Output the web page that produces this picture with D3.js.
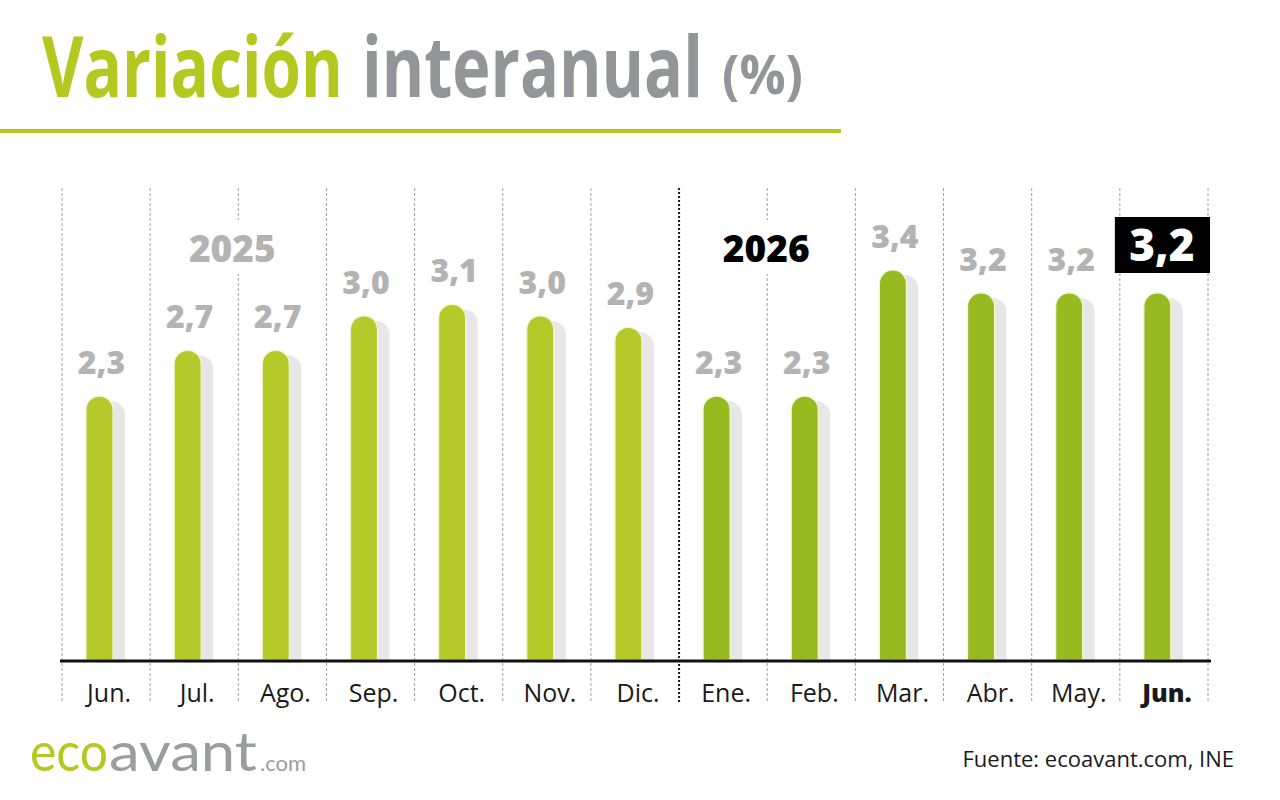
<!DOCTYPE html>
<html>
<head>
<meta charset="utf-8">
<script src="https://cdn.jsdelivr.net/npm/d3@7"></script>
<style>
  body { margin: 0; background: #fff; }
  svg { display: block; }
</style>
</head>
<body>
<script>
// chart data
var months = ["Jun.", "Jul.", "Ago.", "Sep.", "Oct.", "Nov.", "Dic.", "Ene.", "Feb.", "Mar.", "Abr.", "May.", "Jun."]
var values = [2.3, 2.7, 2.7, 3.0, 3.1, 3.0, 2.9, 2.3, 2.3, 3.4, 3.2, 3.2, 3.2]
var yearLabels = ["2025", "2026"]
var yearStart = [0, 7]   // index of first month of each year
var yearEdge = [2, 8]    // separator the year label sits on

var width = 1280, height = 800
var plot = { left: 62, right: 1208, top: 188, base: 660 }

var svg = d3.select("body").append("svg")
  .attr("width", width)
  .attr("height", height)

// scales: band per month, linear for values
var idx = months.map(function(d, i) { return i })

var x = d3.scaleBand()
  .domain(idx)
  .range([plot.left, plot.right])
  .paddingInner(0)

var y = d3.scaleLinear()
  .domain([0, 3.4])
  .range([plot.base, 270])

var barW = 27, barOff = 24

function edge(i) { return i < months.length ? x(i) : plot.right }

function barPath(x0, y0, w, h) {
  var rr = Math.min(w / 2, h)
  return "M" + x0 + "," + (y0 + h) +
    "V" + (y0 + rr) +
    "A" + rr + "," + rr + " 0 0 1 " + (x0 + w) + "," + (y0 + rr) +
    "V" + (y0 + h) + "Z"
}

// squeeze a text horizontally to a given width (condensed look)
function fitText(x0, y0, w, size, weight, fill, family, str) {
  var t = svg.append("text")
    .style("font-family", family).style("font-weight", weight)
    .style("font-size", size + "px").style("fill", fill)
    .text(str)
  var sx = w / t.node().getComputedTextLength()
  t.attr("transform", "translate(" + x0 + "," + y0 + ") scale(" + sx + ",1)")
  return t
}

// title
fitText(42, 97, 301, 84, 700, "#b5c820", "Open Sans", "Variación")
fitText(362, 97, 341, 84, 700, "#939598", "Open Sans", "interanual")
fitText(722, 94, 81, 53, 700, "#939598", "Open Sans", "(%)")

svg.append("line")
  .attr("x1", 0).attr("x2", 841)
  .attr("y1", 131).attr("y2", 131)
  .style("stroke", "#b5c820").style("stroke-width", 4)

// vertical separators
var edges = idx.map(function(i) { return x(i) }).concat([plot.right])

svg.append("g").selectAll("line")
  .data(edges)
  .enter().append("line")
  .attr("x1", function(d) { return d }).attr("x2", function(d) { return d })
  .attr("y1", plot.top).attr("y2", 702)
  .style("stroke", function(d, i) { return i === yearStart[1] ? "#1a1a1a" : "#a0a0a0" })
  .style("stroke-width", function(d, i) { return i === yearStart[1] ? 2 : 1 })
  .style("stroke-dasharray", function(d, i) { return i === yearStart[1] ? "2,2" : "3,2" })

// year labels with white backing to break the separators
var years = svg.append("g").selectAll("g")
  .data(yearLabels)
  .enter().append("g")

years.append("rect")
  .attr("x", function(d, i) { return edge(yearEdge[i]) - 50 })
  .attr("y", 220).attr("width", 100).attr("height", 54)
  .style("fill", "#fff")

years.append("text")
  .attr("x", function(d, i) { return edge(yearEdge[i]) - (i === 0 ? 6 : 1) })
  .attr("y", 262)
  .attr("text-anchor", "middle")
  .style("font-family", "Open Sans").style("font-weight", 800)
  .style("font-size", "37px")
  .style("fill", function(d, i) { return i === 0 ? "#b3b3b3" : "#000" })
  .text(function(d) { return d })

// bars: shadow then bar
var bars = svg.append("g").selectAll("g")
  .data(values)
  .enter().append("g")

bars.append("path")
  .attr("d", function(d, i) {
    return barPath(x(i) + barOff + 12, y(d) + 5, barW, plot.base + 3 - y(d) - 5)
  })
  .style("fill", "#e7e7e7")

bars.append("path")
  .attr("d", function(d, i) {
    return barPath(x(i) + barOff, y(d), barW, plot.base - y(d))
  })
  .style("fill", function(d, i) { return i >= yearStart[1] ? "#95bb20" : "#b5c92a" })
  .style("stroke", "#f3f6cf").style("stroke-width", 1.2)

// value labels
bars.filter(function(d, i) { return i < values.length - 1 })
  .append("text")
  .attr("x", function(d, i) { return x(i) + barOff + barW / 2 + 2 })
  .attr("y", function(d) { return y(d) - 22 })
  .attr("text-anchor", "middle")
  .style("font-family", "Open Sans").style("font-weight", 800)
  .style("font-size", "32px").style("fill", "#b3b3b3")
  .text(function(d) { return d3.format(".1f")(d).replace(".", ",") })

// highlighted last value
var last = values.length - 1
svg.append("rect")
  .attr("x", x(last) - 5).attr("y", 217)
  .attr("width", plot.right + 2 - x(last) + 5).attr("height", 56)
  .style("fill", "#000")

svg.append("text")
  .attr("x", x(last) + 42).attr("y", 261)
  .attr("text-anchor", "middle")
  .style("font-family", "Open Sans").style("font-weight", 800)
  .style("font-size", "44px").style("fill", "#fff")
  .text(d3.format(".1f")(values[last]).replace(".", ","))

// baseline
svg.append("line")
  .attr("x1", plot.left - 2).attr("x2", plot.right + 3)
  .attr("y1", plot.base + 1).attr("y2", plot.base + 1)
  .style("stroke", "#111").style("stroke-width", 3)

// month axis labels
svg.append("g").selectAll("text")
  .data(months)
  .enter().append("text")
  .attr("x", function(d, i) { return x(i) + x.bandwidth() / 2 + 3 })
  .attr("y", 702)
  .attr("text-anchor", "middle")
  .style("font-family", "Open Sans")
  .style("font-weight", function(d, i) { return i === last ? 800 : 400 })
  .style("font-size", "25px").style("fill", "#1a1a1a")
  .text(function(d) { return d })

// logo
fitText(30, 771, 78, 54, 400, "#b5c820", "Lato", "eco")
fitText(109, 771, 148, 54, 400, "#9b9c9e", "Lato", "avant")

svg.append("text")
  .attr("x", 260).attr("y", 771)
  .style("font-family", "Lato").style("font-size", "22px").style("fill", "#9b9c9e")
  .text(".com")

// source
svg.append("text")
  .attr("x", 1234).attr("y", 767)
  .attr("text-anchor", "end")
  .style("font-family", "Open Sans").style("font-size", "22px").style("fill", "#1a1a1a")
  .text("Fuente: ecoavant.com, INE")
</script>
</body>
</html>
